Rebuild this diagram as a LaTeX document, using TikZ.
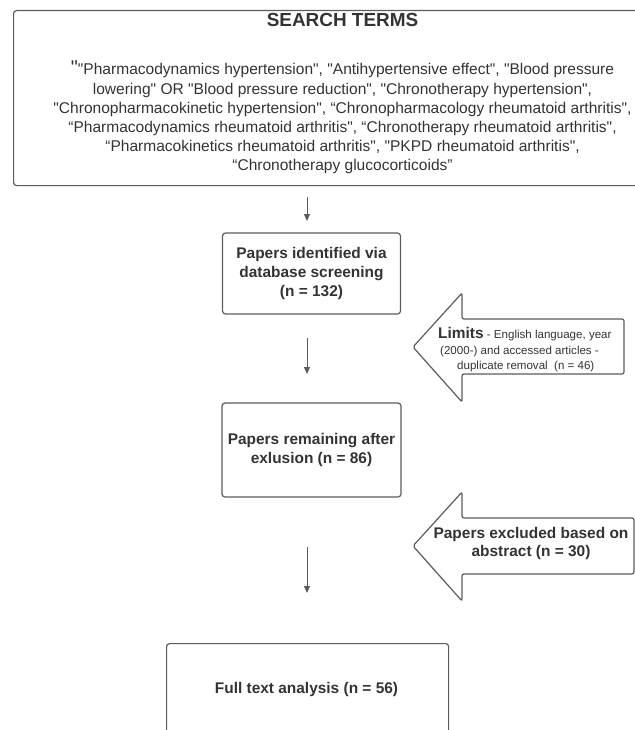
\documentclass[tikz,border=0pt]{standalone}
\usepackage{fontspec}
% TeX input mapping off, so a typed " stays a straight quote
\setmainfont{Liberation Sans}[Ligatures=TeXOff]
\usetikzlibrary{arrows.meta}
\definecolor{ink}{HTML}{333333}
\definecolor{edge}{HTML}{5C5C5C}
\begin{document}
\begin{tikzpicture}[x=1bp,y=-1bp,
  box/.style={draw=edge,line width=1.2bp,rounded corners=3bp,inner sep=0pt},
  sidearrow/.style={draw=edge,line width=1.2bp,rounded corners=2bp,fill=white},
  flow/.style={draw=edge,line width=1bp,-{Triangle[length=7bp,width=6bp]}},
  heading/.style={text=ink,inner sep=0pt,font=\bfseries\fontsize{19}{23}\selectfont},
  terms/.style={text=ink,inner sep=0pt,align=center,font=\fontsize{15.6}{19.2}\selectfont},
  boxtext/.style={text=ink,inner sep=0pt,align=center,font=\bfseries\fontsize{15.5}{18.8}\selectfont},
  small/.style={text=ink,inner sep=0pt,font=\fontsize{11.6}{14}\selectfont}]
\useasboundingbox (0,0) rectangle (635,730);

% search terms panel
\node[box,anchor=north west,minimum width=625bp,minimum height=175bp] (search) at (13,10) {};
\node[heading,anchor=base] (title) at (342.5,27) {SEARCH TERMS};
\node[terms,anchor=center] (list) at (342.5,117.5) {%
{\fontsize{20}{20}\selectfont"}"Pharmacodynamics hypertension", "Antihypertensive effect", "Blood pressure\\
lowering" OR "Blood pressure reduction", "Chronotherapy hypertension",\\
"Chronopharmacokinetic hypertension", “Chronopharmacology rheumatoid arthritis",\\
“Pharmacodynamics rheumatoid arthritis", “Chronotherapy rheumatoid arthritis",\\
“Pharmacokinetics rheumatoid arthritis", "PKPD rheumatoid arthritis",\\
“Chronotherapy glucocorticoids”};

% main flow boxes
\node[box,boxtext,minimum width=178bp,minimum height=81bp] (identified) at (311.5,273.5)
  {Papers identified via\\database screening\\(n = 132)};
\node[box,boxtext,minimum width=179bp,minimum height=94bp] (remaining) at (311.5,450)
  {Papers remaining after\\exlusion (n = 86)};
\node[box,anchor=north west,minimum width=282bp,minimum height=95bp] (fulltext) at (166,643) {};
\node[boxtext] (fulltextlabel) at (306.5,689) {Full text analysis (n = 56)};

% flow arrows
\coordinate (a1s) at (307,197);
\coordinate (a1e) at (307,221);
\coordinate (a2s) at (307,338);
\coordinate (a2e) at (307,374);
\coordinate (a3s) at (307,547);
\coordinate (a3e) at (307,593);
\draw[flow] (a1s) -- (a1e);
\draw[flow] (a2s) -- (a2e);
\draw[flow] (a3s) -- (a3e);

% exclusion arrows pointing back to the flow
\draw[sidearrow] (413,347) -- (462,293) -- (462,319) -- (624,319) -- (624,374)
  -- (462,374) -- (462,402) -- cycle;
\node[small,anchor=base west] (lim1) at (438,338)
  {{\bfseries\fontsize{15.5}{15.5}\selectfont Limits} - English language, year};
\node[small,anchor=base west] (lim2) at (440,354) {(2000-) and accessed articles -};
\node[small,anchor=base west] (lim3) at (457,369) {duplicate removal\ \ (n = 46)};

\draw[sidearrow] (413,546) -- (462,492) -- (462,518) -- (634,518) -- (634,574)
  -- (462,574) -- (462,601) -- cycle;
\node[boxtext] (abstract) at (531,543.5) {Papers excluded based on\\abstract (n = 30)};
\end{tikzpicture}
\end{document}
